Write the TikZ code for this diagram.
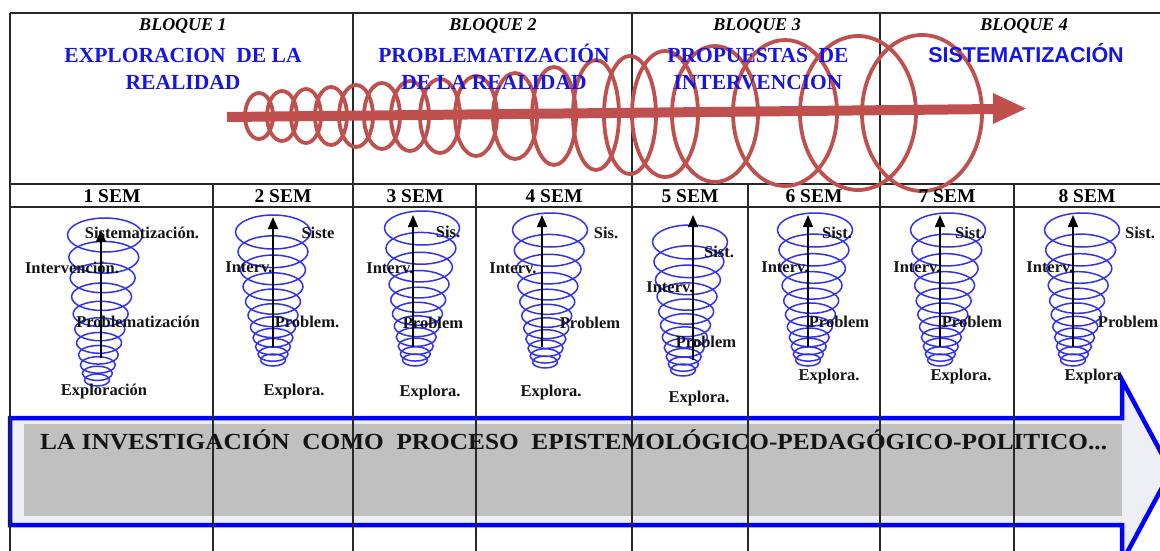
\documentclass[tikz,border=0pt]{standalone}
\usepackage{fontspec}
\setmainfont{Liberation Serif}
\newfontfamily\sansfam{Liberation Sans}
\usepackage{graphicx}
\usetikzlibrary{arrows.meta}
\definecolor{coilred}{RGB}{192,80,77}
\definecolor{titleblue}{RGB}{22,22,225}
\definecolor{spiralblue}{RGB}{50,50,238}
\definecolor{arrowblue}{RGB}{0,0,255}
\definecolor{barfill}{RGB}{192,192,192}
\definecolor{headfill}{RGB}{238,238,245}
\definecolor{gridline}{RGB}{40,40,40}
\definecolor{labelink}{RGB}{20,20,20}
\tikzset{
  tablerule/.style={draw=gridline, line width=1.3pt},
  bloquelbl/.style={anchor=base, inner sep=0pt, font=\fontsize{18}{20}\selectfont\bfseries\itshape, text=black},
  titlelbl/.style={anchor=base, inner sep=0pt, font=\fontsize{21.5}{24}\selectfont\bfseries, text=titleblue},
  semlbl/.style={anchor=base, inner sep=0pt, font=\fontsize{19.5}{22}\selectfont\bfseries, text=black},
  stagelbl/.style={anchor=base, inner sep=0pt, font=\fontsize{16.5}{18}\selectfont\bfseries, text=labelink},
  redcoil/.style={draw=coilred, line width=3.8pt},
  bluecoil/.style={draw=spiralblue, line width=1.5pt},
  upArrow/.style={draw=black, line width=1.6pt, -{Triangle[length=12pt,width=10pt]}},
}
% #1 name, #2 top x, #3 top y, #4 bottom x, #5 bottom y, #6 arrow x, #7 arrow bottom y, #8 arrow top y
\newcommand\coilcolumn[8]{%
  \foreach \k in {0,...,10}{%
    \pgfmathsetmacro\spT{\k/10}%
    \pgfmathsetmacro\spF{\spT*(1.6-0.6*\spT)}%
    \pgfmathsetmacro\spX{#2+(#4-#2)*\spF}%
    \pgfmathsetmacro\spY{#3+(#5-#3)*\spF}%
    \pgfmathsetmacro\spRx{37.5-25*\spT}%
    \pgfmathsetmacro\spRy{17-11*\spT}%
    \draw[bluecoil] (\spX,\spY) ellipse [x radius=\spRx pt, y radius=\spRy pt];
  }%
  \coordinate (#1-base) at (#6,#7);
  \coordinate (#1-tip) at (#6,#8);
  \draw[upArrow] (#1-base) -- (#1-tip);
}
\begin{document}
\begin{tikzpicture}[x=1pt,y=-1pt]
\useasboundingbox (0,0) rectangle (1160,551);
\fill[white] (0,0) rectangle (1160,551);
\clip (0,0) rectangle (1160,551);

% big blue process arrow
\draw[arrowblue, line width=4.5pt, fill=headfill, line join=miter]
  (10,418) -- (1122,418) -- (1122,380) -- (1171,471) -- (1122,562) -- (1122,525) -- (10,525) -- cycle;
\fill[barfill] (24,424) rectangle (1122,516);

% table
\draw[tablerule] (10,13) -- (1160,13);
\draw[tablerule] (10,184) -- (1160,184);
\draw[tablerule] (10,207) -- (1160,207);
\foreach \xx in {10,353,632,880} \draw[tablerule] (\xx,13) -- (\xx,551);
\foreach \xx in {213,476,748,1014} \draw[tablerule] (\xx,184) -- (\xx,551);

% red coil
\foreach \cx/\cy/\rx/\ry in {259/116/14/23, 282/116/15/25, 306/116/15/27, 331/116/16/29,
   356/116/17/31, 382/116/18/33, 410/116/19/35, 440/116/20/37, 476/116/21/40,
   515/116/22/43, 554/116/22/49, 596/115/23/55, 630/115/26/59, 665/114/33/63,
   715/114/43/68, 785/113/52/73, 858/113/58/77, 922/113/60/78}
  \draw[redcoil] (\cx,\cy) ellipse [x radius=\rx pt, y radius=\ry pt];
\coordinate (redstart) at (227,117);
\coordinate (redend) at (996,109);
\draw[coilred, line width=10pt] (redstart) -- (redend);
\fill[coilred] (993,93) -- (1026,108.5) -- (993,124) -- cycle;

% header texts
\node[bloquelbl] (b1) at (183,31) {BLOQUE 1};
\node[bloquelbl] (b2) at (493,31) {BLOQUE 2};
\node[bloquelbl] (b3) at (757,31) {BLOQUE 3};
\node[bloquelbl] (b4) at (1024,31) {BLOQUE 4};
\node[titlelbl] (t1a) at (183,63) {EXPLORACION\ \ DE LA};
\node[titlelbl] (t1b) at (183,90) {REALIDAD};
\node[titlelbl] (t2a) at (494,63) {PROBLEMATIZACIÓN};
\node[titlelbl] (t2b) at (494,90) {DE LA REALIDAD};
\node[titlelbl] (t3a) at (758,63) {PROPUESTAS\ \ DE};
\node[titlelbl] (t3b) at (758,90) {INTERVENCION};
\node[titlelbl, font=\fontsize{21.5}{24}\selectfont\sansfam\bfseries] (t4a) at (1026,63) {SISTEMATIZACIÓN};

% semester headers
\node[semlbl] (s1) at (112,202) {1 SEM};
\node[semlbl] (s2) at (283,202) {2 SEM};
\node[semlbl] (s3) at (415,202) {3 SEM};
\node[semlbl] (s4) at (554,202) {4 SEM};
\node[semlbl] (s5) at (690,202) {5 SEM};
\node[semlbl] (s6) at (814,202) {6 SEM};
\node[semlbl] (s7) at (947,202) {7 SEM};
\node[semlbl] (s8) at (1087,202) {8 SEM};

% blue coils with arrows
\coilcolumn{c1}{105}{235}{97}{380}{101}{358}{230}
\coilcolumn{c2}{273}{232}{273}{360}{273}{347}{217}
\coilcolumn{c3}{422}{228}{415}{360}{413}{347}{215}
\coilcolumn{c4}{550}{230}{545}{362}{542}{347}{215}
\coilcolumn{c5}{690}{242}{683}{370}{693}{360}{215}
\coilcolumn{c6}{815}{230}{808}{360}{808}{347}{215}
\coilcolumn{c7}{948}{230}{940}{360}{940}{347}{215}
\coilcolumn{c8}{1082}{230}{1073}{360}{1073}{347}{215}

% stage labels
\node[stagelbl] (l1s) at (142,238) {Sistematización.};
\node[stagelbl] (l1i) at (72,273) {Intervención.};
\node[stagelbl] (l1p) at (138,327) {Problematización};
\node[stagelbl] (l1e) at (104,395) {Exploración};

\node[stagelbl] (l2s) at (318,238) {Siste};
\node[stagelbl] (l2i) at (249,272) {Interv.};
\node[stagelbl] (l2p) at (307,327) {Problem.};
\node[stagelbl] (l2e) at (294,395) {Explora.};

\node[stagelbl] (l3s) at (448,237) {Sis.};
\node[stagelbl] (l3i) at (390,273) {Interv.};
\node[stagelbl] (l3p) at (433,328) {Problem};
\node[stagelbl] (l3e) at (430,396) {Explora.};

\node[stagelbl] (l4s) at (606,238) {Sis.};
\node[stagelbl] (l4i) at (513,273) {Interv.};
\node[stagelbl] (l4p) at (590,328) {Problem};
\node[stagelbl] (l4e) at (551,396) {Explora.};

\node[stagelbl] (l5s) at (719,257) {Sist.};
\node[stagelbl] (l5i) at (670,292) {Interv.};
\node[stagelbl] (l5p) at (706,347) {Problem};
\node[stagelbl] (l5e) at (699,402) {Explora.};

\node[stagelbl] (l6s) at (837,238) {Sist.};
\node[stagelbl] (l6i) at (785,272) {Interv.};
\node[stagelbl] (l6p) at (839,327) {Problem};
\node[stagelbl] (l6e) at (829,380) {Explora.};

\node[stagelbl] (l7s) at (970,238) {Sist.};
\node[stagelbl] (l7i) at (917,272) {Interv.};
\node[stagelbl] (l7p) at (972,327) {Problem};
\node[stagelbl] (l7e) at (961,380) {Explora.};

\node[stagelbl] (l8s) at (1140,238) {Sist.};
\node[stagelbl] (l8i) at (1050,272) {Interv.};
\node[stagelbl] (l8p) at (1128,327) {Problem};
\node[stagelbl] (l8e) at (1093,380) {Explora};

% process text
\node[anchor=base west, inner sep=0pt, font=\fontsize{23}{26}\selectfont\bfseries, text=labelink] (proc) at (40,449)
  {\scalebox{1.1}[1]{LA INVESTIGACIÓN\ \ COMO\ \ PROCESO\ \ EPISTEMOLÓGICO-PEDAGÓGICO-POLITICO...}};
\end{tikzpicture}
\end{document}
